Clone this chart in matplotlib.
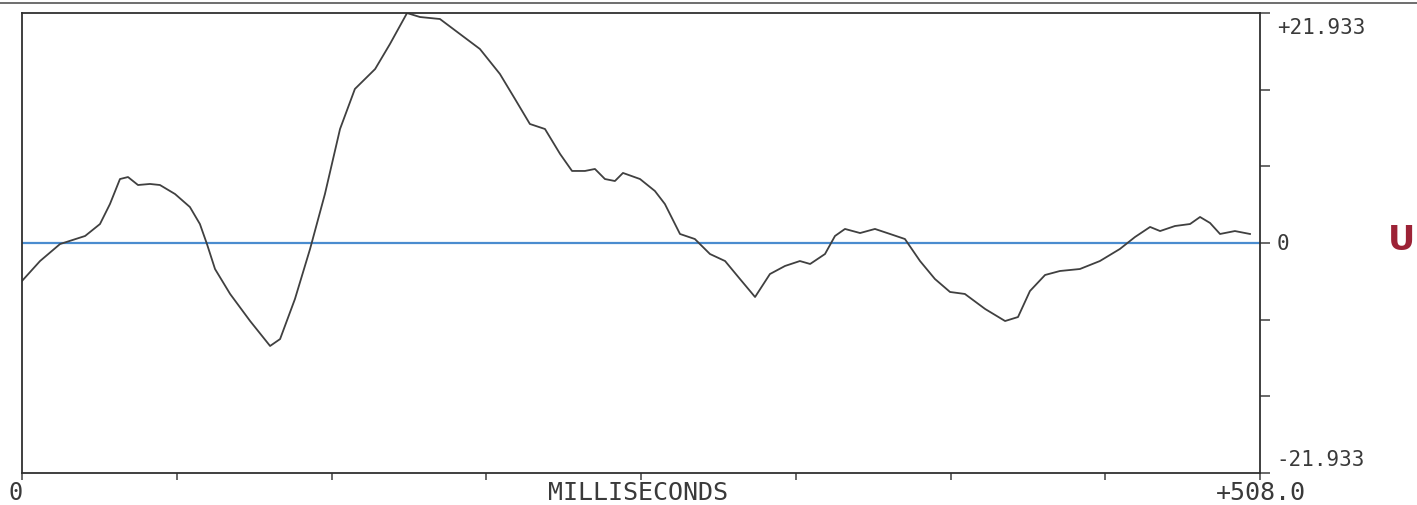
import numpy as np
import matplotlib.pyplot as plt
from matplotlib.lines import Line2D

# waveform
ms = [0, 7.4, 15.6, 25.9, 32.0, 36.1, 40.2, 43.5, 47.6, 52.5, 56.6, 62.8, 68.9, 73.0,
      75.9, 79.2, 85.4, 93.6, 101.8, 105.9, 112.0, 118.2, 124.3, 130.5, 136.6, 144.9,
      151.0, 158.0, 163.3, 171.5, 179.7, 187.9, 196.1, 202.3, 208.4, 214.6, 220.8,
      225.7, 231.0, 235.1, 239.2, 243.3, 246.6, 253.6, 259.7, 263.8, 270.0, 276.1,
      282.3, 288.5, 294.6, 300.8, 306.9, 313.1, 319.2, 323.4, 329.5, 333.6, 337.7,
      343.9, 350.0, 356.2, 362.3, 368.5, 374.6, 380.8, 386.9, 395.2, 403.4, 408.7,
      413.6, 419.8, 425.9, 434.1, 442.3, 450.5, 456.7, 462.9, 467.0, 473.1, 479.3,
      483.4, 487.5, 491.6, 497.7, 503.9]
amp = [-3.62, -1.72, -0.10, 0.67, 1.81, 3.72, 6.10, 6.29, 5.53, 5.63, 5.53, 4.67, 3.43,
       1.81, -0.10, -2.48, -4.86, -7.44, -9.82, -9.16, -5.34, -0.57, 4.67, 10.87, 14.69,
       16.59, 18.98, 21.93, 21.55, 21.36, 19.93, 18.50, 16.12, 13.73, 11.35, 10.87, 8.49,
       6.87, 6.87, 7.06, 6.10, 5.91, 6.68, 6.10, 4.96, 3.72, 0.86, 0.38, -1.05, -1.72,
       -3.43, -5.15, -2.96, -2.19, -1.72, -2.00, -1.05, 0.67, 1.34, 0.95, 1.34, 0.86,
       0.38, -1.72, -3.43, -4.67, -4.86, -6.29, -7.44, -7.06, -4.58, -3.05, -2.67, -2.48,
       -1.72, -0.57, 0.57, 1.53, 1.14, 1.62, 1.81, 2.48, 1.91, 0.86, 1.14, 0.86]

x_max = 508.0
y_lim = 21.933
x_ticks = np.linspace(0, x_max, 9)
y_ticks = np.linspace(-y_lim, y_lim, 7)

mono = 'DejaVu Sans Mono'
txt_col = '#3a3a3a'

fig = plt.figure(figsize=(14.17, 5.06), dpi=100)
ax = fig.add_axes([22 / 1417, 32 / 506, 1238 / 1417, 460 / 506])

ax.axhline(0, color='#4a8ccf', lw=1.6, zorder=1)
ax.plot(ms, amp, color='#404040', lw=1.3, zorder=2)

ax.set_xlim(0, x_max)
ax.set_ylim(-y_lim, y_lim)

for s in ax.spines.values():
    s.set_color('#303030')
    s.set_linewidth(1.3)

ax.yaxis.tick_right()
ax.set_yticks(y_ticks)
ax.set_yticklabels([])
ax.tick_params(axis='y', direction='out', length=7, width=1.1, color='#404040')
ax.set_xticks(x_ticks)
ax.set_xticklabels([])
ax.tick_params(axis='x', direction='out', length=5, width=1.1, color='#404040')

# right-hand scale labels
ytr = ax.get_yaxis_transform()
ax.text(1.0135, y_lim - 0.4, '+21.933', transform=ytr, ha='left', va='top',
        fontsize=15, family=mono, color=txt_col)
ax.text(1.0135, 0, '0', transform=ytr, ha='left', va='center',
        fontsize=15, family=mono, color=txt_col)
ax.text(1.0135, -y_lim + 0.4, '-21.933', transform=ytr, ha='left', va='bottom',
        fontsize=15, family=mono, color=txt_col)

# bottom labels
fig.text(8 / 1417, 13 / 506, '0', ha='left', va='center',
         fontsize=17, family=mono, color=txt_col)
fig.text(638 / 1417, 13 / 506, 'MILLISECONDS', ha='center', va='center',
         fontsize=18, family=mono, color=txt_col)
fig.text(1306 / 1417, 13 / 506, '+508.0', ha='right', va='center',
         fontsize=18, family=mono, color=txt_col)

# red letter at the page edge
fig.text(1415 / 1417, 266 / 506, 'U', ha='right', va='center', fontsize=24,
         fontweight='bold', color='#9c2236')

# page edge line at the top of the scan
fig.add_artist(Line2D([0, 1], [1 - 4 / 506, 1 - 4 / 506], transform=fig.transFigure,
                      color='#555555', lw=1.2))

fig.savefig('out.png', dpi=100)
